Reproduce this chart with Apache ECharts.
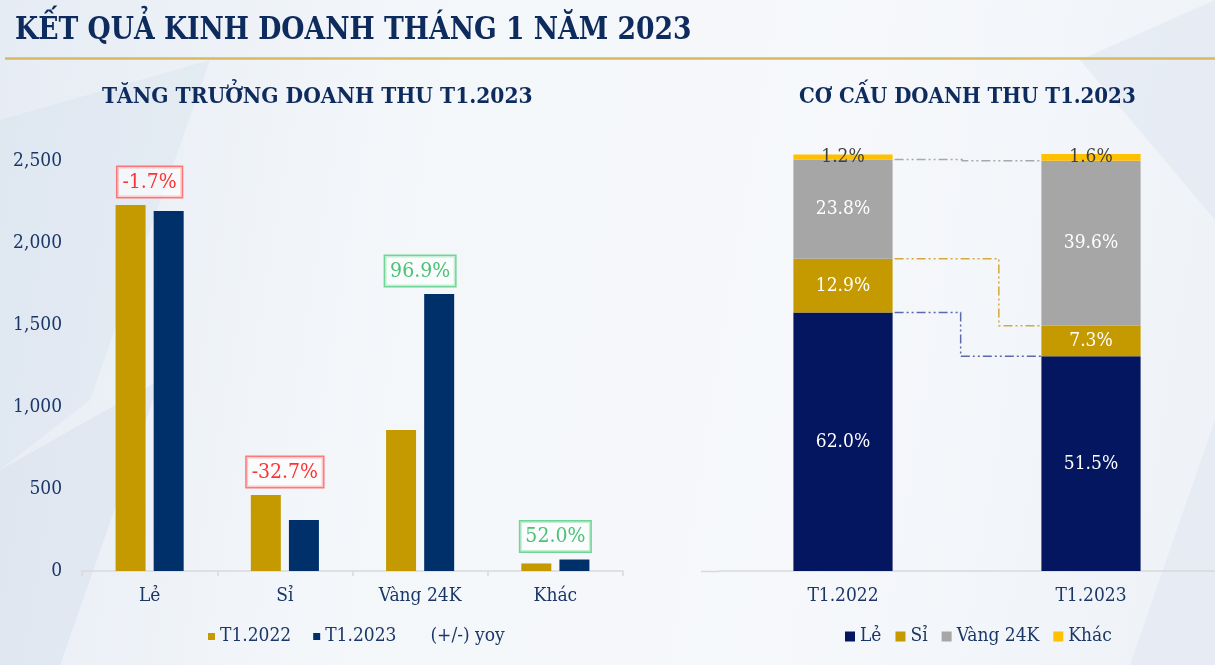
<!DOCTYPE html>
<html>
<head>
<meta charset="utf-8">
<script src="https://cdn.jsdelivr.net/npm/echarts@6/dist/echarts.min.js"></script>
<style>
html,body{margin:0;padding:0;}
#chart{width:1215px;height:665px;}
</style>
</head>
<body>
<div id="chart"></div>
<script>
// ---------- DATA ----------
const pageTitle = 'KẾT QUẢ KINH DOANH THÁNG 1 NĂM 2023';
const leftTitle = 'TĂNG TRƯỞNG DOANH THU T1.2023';
const rightTitle = 'CƠ CẤU DOANH THU T1.2023';

const growthCategories = ['Lẻ', 'Sỉ', 'Vàng 24K', 'Khác'];
const revenue2022 = [2232, 463, 860, 46];
const revenue2023 = [2195, 311, 1689, 70];
const yoyPct = [-1.7, -32.7, 96.9, 52.0];
const yTicks = [0, 500, 1000, 1500, 2000, 2500];

const periodCategories = ['T1.2022', 'T1.2023'];
const segmentNames = ['Lẻ', 'Sỉ', 'Vàng 24K', 'Khác'];
const shareLe = [62.0, 51.5];
const shareSi = [12.9, 7.3];
const shareVang = [23.8, 39.6];
const shareKhac = [1.2, 1.6];

// ---------- STYLE ----------
const FONT = '"DejaVu Serif Condensed", "DejaVu Serif", serif';
const NAVY_TXT = '#1b3768';
const TITLE_COL = '#0e2b5e';
const GOLD = '#c49a00';
const NAVY_L = '#00306a';
const NAVY_R = '#04165f';
const GRAY = '#a6a6a6';
const YELLOW = '#ffc000';

const chart = echarts.init(document.getElementById('chart'), null, {renderer: 'canvas'});

const yoyData = yoyPct.map((v, i) => {
  const pos = v >= 0;
  return {
    value: Math.max(revenue2022[i], revenue2023[i]),
    label: {
      formatter: v.toFixed(1) + '%',
      color: pos ? '#1fb352' : '#ff0000',
      borderColor: pos ? '#4fcc7e' : '#ff5a5a'
    }
  };
});

const shares = [shareLe, shareSi, shareVang, shareKhac];
const segColors = [NAVY_R, GOLD, GRAY, YELLOW];
const connectorColors = ['#5e68ac', '#d4a93c', '#a8a8a8'];
const stepFrac = [0.45, 0.71, 0.46];

function cumTop(period, idx) {
  let s = 0;
  for (let k = 0; k <= idx; k++) s += shares[k][period];
  return s;
}

const barSeriesRight = segmentNames.map((name, k) => ({
  name: name,
  type: 'bar',
  stack: 'share',
  xAxisIndex: 1,
  yAxisIndex: 1,
  barWidth: '40%',
  itemStyle: {color: segColors[k]},
  data: shares[k],
  label: {
    show: true,
    position: 'inside',
    formatter: p => p.value.toFixed(1) + '%',
    color: k === 3 ? '#404040' : '#ffffff',
    fontFamily: FONT,
    fontSize: 19
  }
}));

const option = {
  backgroundColor: {
    type: 'linear', x: 0, y: 0, x2: 1, y2: 0.3,
    colorStops: [
      {offset: 0, color: '#e6ecf4'},
      {offset: 0.35, color: '#f4f7fa'},
      {offset: 0.7, color: '#f6f8fb'},
      {offset: 1, color: '#eff3f8'}
    ]
  },
  textStyle: {fontFamily: FONT},
  title: [
    {text: leftTitle, left: 97, top: 81,
     textStyle: {fontFamily: FONT, fontWeight: 'bold', fontSize: 22.5, color: TITLE_COL}},
    {text: rightTitle, left: 794, top: 81,
     textStyle: {fontFamily: FONT, fontWeight: 'bold', fontSize: 22, color: TITLE_COL}}
  ],
  graphic: [
    {type: 'polygon', silent: true, z: -10,
     shape: {points: [[0, 120], [210, 60], [90, 400], [0, 470]]},
     style: {fill: 'rgba(205,218,235,0.28)'}},
    {type: 'polygon', silent: true, z: -10,
     shape: {points: [[0, 470], [160, 380], [60, 665], [0, 665]]},
     style: {fill: 'rgba(195,209,228,0.25)'}},
    {type: 'polygon', silent: true, z: -10,
     shape: {points: [[1080, 60], [1215, 0], [1215, 220]]},
     style: {fill: 'rgba(208,219,235,0.3)'}},
    {type: 'polygon', silent: true, z: -10,
     shape: {points: [[1215, 420], [1130, 665], [1215, 665]]},
     style: {fill: 'rgba(208,219,235,0.3)'}},
    {type: 'text', silent: true, x: 15, y: 31, scaleX: 0.925,
     style: {text: pageTitle, fill: TITLE_COL,
             font: 'bold 32px "DejaVu Serif Condensed", "DejaVu Serif", serif',
             textVerticalAlign: 'middle', verticalAlign: 'middle'}},
    {type: 'line', silent: true,
     shape: {x1: 5, y1: 58.5, x2: 1215, y2: 58.5},
     style: {stroke: '#d6b961', lineWidth: 2.5}},
    {type: 'line', silent: true,
     shape: {x1: 701, y1: 571.5, x2: 719, y2: 571.5},
     style: {stroke: '#d9d9d9', lineWidth: 1.5}}
  ],
  legend: [
    {
      left: 203, top: 622, itemWidth: 7, itemHeight: 7, itemGap: 22,
      icon: 'rect',
      textStyle: {fontFamily: FONT, fontSize: 19, color: NAVY_TXT},
      data: [
        {name: 'T1.2022'},
        {name: 'T1.2023'},
        {name: '(+/-) yoy', itemStyle: {color: 'rgba(0,0,0,0)', borderWidth: 0}}
      ]
    },
    {
      left: 840, top: 622, itemWidth: 10, itemHeight: 10, itemGap: 14,
      icon: 'rect',
      textStyle: {fontFamily: FONT, fontSize: 19, color: NAVY_TXT},
      data: segmentNames
    }
  ],
  grid: [
    {left: 82, right: 1215 - 623, top: 161, bottom: 665 - 571, containLabel: false},
    {left: 719, right: -8, top: 154, bottom: 665 - 571, containLabel: false}
  ],
  xAxis: [
    {
      type: 'category', gridIndex: 0, data: growthCategories,
      axisLine: {lineStyle: {color: '#d9d9d9', width: 1.5}},
      axisTick: {show: true, length: 5, lineStyle: {color: '#d9d9d9', width: 1.5}},
      axisLabel: {fontFamily: FONT, fontSize: 19, color: NAVY_TXT, margin: 16}
    },
    {
      type: 'category', gridIndex: 1, data: periodCategories,
      axisLine: {lineStyle: {color: '#d9d9d9', width: 1.5}},
      axisTick: {show: false},
      axisLabel: {fontFamily: FONT, fontSize: 19, color: NAVY_TXT, margin: 16}
    }
  ],
  yAxis: [
    {
      type: 'value', gridIndex: 0, min: yTicks[0], max: yTicks[yTicks.length - 1], interval: 500,
      axisLine: {show: false}, axisTick: {show: false}, splitLine: {show: false},
      axisLabel: {fontFamily: FONT, fontSize: 19, color: NAVY_TXT, margin: 20,
                  formatter: v => v.toLocaleString('en-US')}
    },
    {
      type: 'value', gridIndex: 1, min: 0, max: 100, show: false,
      splitLine: {show: false}
    }
  ],
  series: [
    {
      name: 'T1.2022', type: 'bar', xAxisIndex: 0, yAxisIndex: 0,
      data: revenue2022, barWidth: 30, barGap: '27%',
      itemStyle: {color: GOLD}
    },
    {
      name: 'T1.2023', type: 'bar', xAxisIndex: 0, yAxisIndex: 0,
      data: revenue2023, barWidth: 30, barGap: '27%',
      itemStyle: {color: NAVY_L}
    },
    {
      name: '(+/-) yoy', type: 'scatter', xAxisIndex: 0, yAxisIndex: 0,
      symbolSize: 0, itemStyle: {color: 'rgba(0,0,0,0)'},
      data: yoyData, z: 5,
      label: {
        show: true, position: 'top', distance: 8,
        fontFamily: FONT, fontSize: 21,
        backgroundColor: 'rgba(255,255,255,0.75)',
        borderWidth: 1.5, padding: [5, 5, 4, 5]
      }
    },
    ...barSeriesRight,
    {
      name: 'connectors', type: 'custom', xAxisIndex: 1, yAxisIndex: 1,
      data: [0, 1, 2], z: 1, silent: true,
      renderItem: function (params, api) {
        const i = params.dataIndex;
        const band = api.size([1, 0])[0];
        const half = band * 0.2;
        const a = api.coord([0, cumTop(0, i)]);
        const b = api.coord([1, cumTop(1, i)]);
        const x0 = a[0] + half + 2, x1 = b[0] - half;
        const xs = x0 + stepFrac[i] * (x1 - x0);
        return {
          type: 'polyline',
          shape: {points: [[x0, a[1]], [xs, a[1]], [xs, b[1]], [x1, b[1]]]},
          style: {stroke: connectorColors[i], lineWidth: 1.5, fill: null,
                  lineDash: [9, 3, 2, 3, 2, 3]}
        };
      }
    }
  ]
};
chart.setOption(option);
</script>
</body>
</html>
